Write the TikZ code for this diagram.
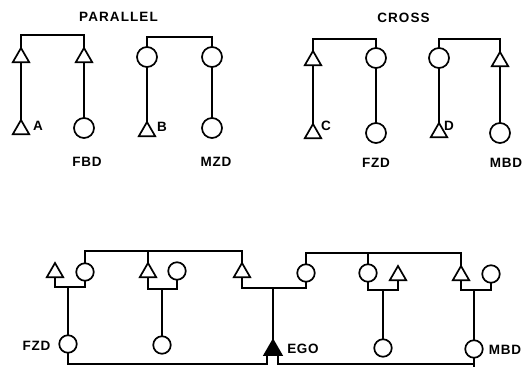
\documentclass[tikz,border=0pt]{standalone}
\usepackage{fontspec}
\setmainfont{Liberation Sans}
\usetikzlibrary{shapes.geometric}
\tikzset{
  ln/.style={line width=1.7pt},
  tri/.style={regular polygon, regular polygon sides=3, draw, line width=1.7pt, fill=white, inner sep=0pt, outer sep=0pt, minimum size=19pt, anchor=north},
  trib/.style={tri, minimum size=19pt},
  egot/.style={tri, fill=black, minimum size=20pt},
  circ/.style={circle, draw, line width=1.7pt, fill=white, inner sep=0pt, outer sep=0pt, minimum size=20pt},
  circb/.style={circ, minimum size=17.5pt},
  lbl/.style={inner sep=0pt, font=\fontsize{13.5}{13.5}\selectfont\bfseries\addfontfeatures{LetterSpace=5}},
  ttl/.style={inner sep=0pt, font=\fontsize{13.5}{13.5}\selectfont\bfseries\addfontfeatures{LetterSpace=8}}
}
\begin{document}
\begin{tikzpicture}[x=1pt,y=-1pt]
\useasboundingbox (0,0) rectangle (522,367);
% titles
\node[ttl] (tpar) at (118.5,16.5) {PARALLEL};
\node[ttl] (tcro) at (403.5,18) {CROSS};
% ---------- Parallel, group A ----------
\node[tri] (a1) at (21,48) {};
\node[tri] (a2) at (21,120) {};
\node[tri] (f1) at (84,48) {};
\node[circ] (f2) at (84,128) {};
\node[lbl] (la) at (38,125.5) {A};
\node[lbl] (lfbd) at (87,161.5) {FBD};
\draw[ln] (a1.north) -- ++(0,-13) -| (f1.north);
\draw[ln] (a1.south) -- (a2.north);
\draw[ln] (f1.south) -- (f2.north);
% ---------- Parallel, group B ----------
\node[circ] (b1) at (147,57) {};
\node[tri] (b2) at (147,122) {};
\node[circ] (m1) at (212,57) {};
\node[circ] (m2) at (212,128) {};
\node[lbl] (lb) at (162,127) {B};
\node[lbl] (lmzd) at (216,162) {MZD};
\draw[ln] (b1.north) -- ++(0,-10) -| (m1.north);
\draw[ln] (b1.south) -- (b2.north);
\draw[ln] (m1.south) -- (m2.north);
% ---------- Cross, group C ----------
\node[tri] (c1) at (313,51) {};
\node[tri] (c2) at (313,124) {};
\node[circ] (z1) at (376,58) {};
\node[circ] (z2) at (376,133) {};
\node[lbl] (lc) at (326,125.5) {C};
\node[lbl] (lfzd) at (376,162.5) {FZD};
\draw[ln] (c1.north) -- ++(0,-12) -| (z1.north);
\draw[ln] (c1.south) -- (c2.north);
\draw[ln] (z1.south) -- (z2.north);
% ---------- Cross, group D ----------
\node[circ] (d1) at (439,58) {};
\node[tri] (d2) at (439,123) {};
\node[tri] (mb1) at (500,52) {};
\node[circ] (mb2) at (500,133) {};
\node[lbl] (ld) at (449,125.5) {D};
\node[lbl] (lmbd) at (506,162.5) {MBD};
\draw[ln] (d1.north) -- ++(0,-9) -| (mb1.north);
\draw[ln] (d1.south) -- (d2.north);
\draw[ln] (mb1.south) -- (mb2.north);
% ---------- Bottom diagram ----------
\coordinate (bar1) at (0,251);
\coordinate (bar2) at (0,253);
\coordinate (u1) at (0,287);
\coordinate (u2) at (0,289);
\coordinate (u3) at (0,288);
\coordinate (u4) at (0,290);
\coordinate (edge) at (0,367);
% unit 1
\node[trib] (t1) at (55,263) {};
\node[circb] (k1) at (85,272) {};
\node[circb] (fzd) at (68,344) {};
\node[lbl] (lfzd2) at (36.5,346) {FZD};
% unit 2
\node[trib] (t2) at (148,263) {};
\node[circb] (k2) at (177,271) {};
\node[circb] (s2) at (162,345) {};
% unit 3 (ego's parents)
\node[trib] (t3) at (242,263) {};
\node[circb] (k3) at (306,273) {};
\node[egot] (ego) at (273,340) {};
\node[lbl] (lego) at (303,349) {EGO};
% unit 4
\node[circb] (k4) at (368,273) {};
\node[trib] (t4) at (398,266) {};
\node[circb] (s4) at (383,348) {};
% unit 5
\node[trib] (t5) at (461,266) {};
\node[circb] (k5) at (491,274) {};
\node[circb] (mbd) at (474,349) {};
\node[lbl] (lmbd2) at (505,350) {MBD};
% sibling bars
\draw[ln] (k1.north) -- (k1.north |- bar1) -| (t3.north);
\draw[ln] (t2.north) -- (t2.north |- bar1);
\draw[ln] (k3.north) -- (k3.north |- bar2) -| (t5.north);
\draw[ln] (k4.north) -- (k4.north |- bar2);
% marriage links
\draw[ln] (t1.south) -- (t1.south |- u1) -| (k1.south);
\draw[ln] (t2.south) -- (t2.south |- u2) -| (k2.south);
\draw[ln] (t3.south) -- (t3.south |- u3) -| (k3.south);
\draw[ln] (k4.south) -- (k4.south |- u4) -| (t4.south);
\draw[ln] (t5.south) -- (t5.south |- u4) -| (k5.south);
% descent lines
\draw[ln] (fzd.north |- u1) -- (fzd.north);
\draw[ln] (s2.north |- u2) -- (s2.north);
\draw[ln] (ego.north |- u3) -- (ego.north);
\draw[ln] (s4.north |- u4) -- (s4.north);
\draw[ln] (mbd.north |- u4) -- (mbd.north);
% ego's marriages
\coordinate (nl) at (267,364);
\coordinate (nr) at (278,364);
\draw[ln] (fzd.south) |- (nl) -- (nl |- ego.south);
\draw[ln] (nr |- ego.south) -- (nr) -| (mbd.south);
\draw[ln] (mbd.south) -- (mbd.south |- edge);
\end{tikzpicture}
\end{document}
